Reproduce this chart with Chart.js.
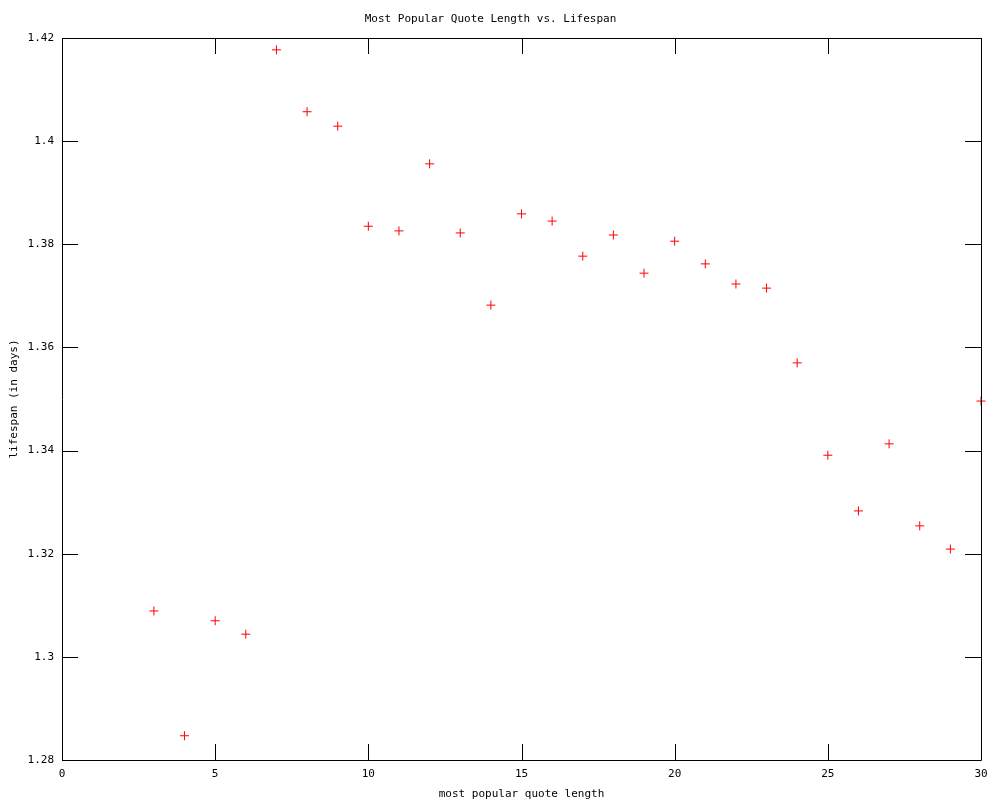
<!DOCTYPE html>
<html>
<head>
<meta charset="utf-8">
<script src="https://cdn.jsdelivr.net/npm/chart.js@4/dist/chart.umd.min.js"></script>
<style>
  html, body { margin: 0; padding: 0; background: #fff; }
  #wrap { width: 1000px; height: 800px; }
</style>
</head>
<body>
<div id="wrap"><canvas id="chart" width="1000" height="800"></canvas></div>
<script>
const quoteLength = [3, 4, 5, 6, 7, 8, 9, 10, 11, 12, 13, 14, 15, 16, 17, 18, 19, 20, 21, 22, 23, 24, 25, 26, 27, 28, 29, 30];
const lifespan = [1.3089, 1.2847, 1.3070, 1.3044, 1.4177, 1.4057, 1.4029, 1.3835, 1.3826, 1.3956, 1.3822, 1.3682, 1.3859, 1.3845,
  1.3777, 1.3818, 1.3744, 1.3806, 1.3762, 1.3723, 1.3715, 1.3570, 1.3391, 1.3283, 1.3413, 1.3254, 1.3209, 1.3496];
const xTicks = [0, 5, 10, 15, 20, 25, 30];
const yTicks = [1.28, 1.3, 1.32, 1.34, 1.36, 1.38, 1.4, 1.42];

const FONT = "'DejaVu Sans Mono', monospace";
Chart.defaults.font.family = FONT;
Chart.defaults.font.size = 11;
Chart.defaults.color = "#000";

// frame + inward tick marks on all four sides
const frame = {
  id: "frame",
  afterDraw(chart) {
    const ctx = chart.ctx;
    const a = chart.chartArea;
    const xs = chart.scales.x, ys = chart.scales.y;
    ctx.save();
    ctx.strokeStyle = "#000";
    ctx.lineWidth = 1;
    ctx.beginPath();
    ctx.rect(Math.round(a.left) + 0.5, Math.round(a.top) + 0.5, Math.round(a.right - a.left), Math.round(a.bottom - a.top));
    xTicks.forEach(v => {
      const px = Math.round(xs.getPixelForValue(v)) + 0.5;
      ctx.moveTo(px, a.bottom); ctx.lineTo(px, a.bottom - 16);
      ctx.moveTo(px, a.top); ctx.lineTo(px, a.top + 16);
    });
    yTicks.forEach(v => {
      const py = Math.round(ys.getPixelForValue(v)) + 0.5;
      ctx.moveTo(a.left, py); ctx.lineTo(a.left + 16, py);
      ctx.moveTo(a.right, py); ctx.lineTo(a.right - 16, py);
    });
    ctx.stroke();
    ctx.restore();
  }
};

new Chart(document.getElementById("chart"), {
  type: "scatter",
  data: {
    datasets: [{
      data: quoteLength.map((x, i) => ({ x: x, y: lifespan[i] })),
      pointStyle: "cross",
      radius: 4.5,
      hoverRadius: 4.5,
      borderColor: "#ff0000",
      backgroundColor: "#ff0000",
      borderWidth: 1,
      clip: false
    }]
  },
  plugins: [frame],
  options: {
    responsive: false,
    animation: false,
    events: [],
    layout: { padding: { top: 0, right: 19, bottom: 0, left: 0 } },
    plugins: {
      legend: { display: false },
      tooltip: { enabled: false },
      title: {
        display: true,
        text: "Most Popular Quote Length vs. Lifespan",
        font: { family: FONT, size: 11, weight: "normal" },
        color: "#000",
        padding: { top: 13, bottom: 11.8 }
      }
    },
    scales: {
      x: {
        type: "linear",
        min: 0,
        max: 30,
        grid: { display: false, drawTicks: false },
        border: { display: false },
        afterBuildTicks: s => { s.ticks = xTicks.map(v => ({ value: v })); },
        ticks: { padding: 8, maxRotation: 0, callback: v => String(v) },
        afterFit: s => { s.height = 40; },
        title: { display: true, text: "most popular quote length", padding: { top: 0, bottom: -1 } }
      },
      y: {
        type: "linear",
        min: 1.28,
        max: 1.42,
        grid: { display: false, drawTicks: false },
        border: { display: false },
        afterBuildTicks: s => { s.ticks = yTicks.map(v => ({ value: v })); },
        ticks: { padding: 8, callback: v => String(Number(v.toFixed(2))) },
        afterFit: s => { s.width = 62; },
        title: { display: true, text: "lifespan (in days)", padding: { top: 8, bottom: 0 } }
      }
    }
  }
});
</script>
</body>
</html>
